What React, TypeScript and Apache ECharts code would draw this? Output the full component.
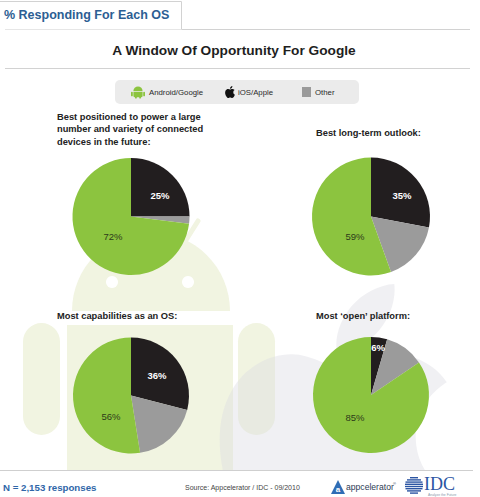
import React, { useEffect, useRef } from "react";
import * as echarts from "echarts";

// ---------- data ----------
const OS_NAMES = ["iOS/Apple", "Other", "Android/Google"];
const PIE_TITLES = [
  "Best positioned to power a large\nnumber and variety of connected\ndevices in the future:",
  "Best long-term outlook:",
  "Most capabilities as an OS:",
  "Most \u2018open\u2019 platform:",
];
// slice sizes as drawn in the picture (share of each pie)
const IOS_SHARE = [25, 28, 29, 4.5];
const OTHER_SHARE = [2, 16.5, 18.5, 11];
const ANDROID_SHARE = [73, 55.5, 52.5, 84.5];
// percentages printed on the slices
const IOS_LABELS = ["25%", "35%", "36%", "6%"];
const ANDROID_LABELS = ["72%", "59%", "56%", "85%"];
const LEGEND_LABELS = ["Android/Google", "iOS/Apple", "Other"];

// ---------- layout / style ----------
const FONT = "'Liberation Sans', Arial, Helvetica, sans-serif";
const GREEN = "#8cc43f";
const BLACK = "#221e1f";
const GRAY = "#9b9b9b";
const BLUE = "#2c5e93";
const ANDROID_BG = "#f1f4e1";
const PIE_CENTERS: [number, number][] = [
  [131, 216.5],
  [371, 216.5],
  [131, 395.5],
  [371, 395],
];
const PIE_RADII = [58.5, 59, 58, 58];
const IOS_LABEL_OFFSET: [number, number][] = [
  [29, -21],
  [31, -21],
  [26, -20],
  [7, -48],
];
const ANDROID_LABEL_OFFSET: [number, number][] = [
  [-18, 19.5],
  [-16, 19.5],
  [-20, 21],
  [-16, 22],
];
const TITLE_POS: [number, number][] = [
  [57, 111],
  [316, 127],
  [57, 310],
  [316, 310],
];

const APPLE_PATH =
  "M12.152 6.896c-.948 0-2.415-1.078-3.96-1.04-2.04.027-3.91 1.183-4.961 3.014-2.117 3.675-.546 9.103 1.519 12.09 1.013 1.454 2.208 3.09 3.792 3.039 1.52-.065 2.09-.987 3.935-.987 1.831 0 2.35.987 3.96.948 1.637-.026 2.676-1.48 3.676-2.948 1.156-1.688 1.636-3.325 1.662-3.415-.039-.013-3.182-1.221-3.22-4.857-.026-3.04 2.48-4.494 2.597-4.559-1.429-2.09-3.623-2.324-4.39-2.376-2-.156-3.675 1.09-4.61 1.09zM15.53 3.83c.843-1.012 1.4-2.427 1.245-3.830-1.207.052-2.662.805-3.532 1.818-.78.896-1.454 2.338-1.273 3.714 1.338.104 2.715-.688 3.559-1.701";

echarts.graphic.registerShape("apple", echarts.graphic.extendPath(APPLE_PATH, {}));

function text(x: number, y: number, t: string, style: any, z = 3) {
  return {
    type: "text",
    x,
    y,
    z,
    silent: true,
    style: {
      text: t,
      fontFamily: FONT,
      fill: "#222",
      textAlign: "left",
      textVerticalAlign: "middle",
      ...style,
    },
  };
}

function buildGraphic() {
  const els: any[] = [];
  // ---- background android robot ----
  const a = { fill: ANDROID_BG };
  els.push({ type: "sector", z: 0, silent: true, shape: { cx: 151, cy: 311, r: 79, startAngle: Math.PI, endAngle: Math.PI * 2, clockwise: true }, style: a });
  els.push({ type: "circle", z: 0, silent: true, shape: { cx: 112, cy: 282, r: 6 }, style: { fill: "#fff" } });
  els.push({ type: "circle", z: 0, silent: true, shape: { cx: 188, cy: 282, r: 6 }, style: { fill: "#fff" } });
  els.push({ type: "line", z: 0, silent: true, shape: { x1: 186, y1: 240, x2: 198, y2: 221 }, style: { stroke: ANDROID_BG, lineWidth: 5, lineCap: "round" } });
  els.push({ type: "line", z: 0, silent: true, shape: { x1: 116, y1: 240, x2: 104, y2: 221 }, style: { stroke: ANDROID_BG, lineWidth: 5, lineCap: "round" } });
  els.push({ type: "rect", z: 0, silent: true, shape: { x: 67, y: 325, width: 166, height: 165, r: [0, 0, 20, 20] }, style: a });
  els.push({ type: "rect", z: 0, silent: true, shape: { x: 23, y: 323, width: 37, height: 112, r: 18.5 }, style: a });
  els.push({ type: "rect", z: 0, silent: true, shape: { x: 238, y: 323, width: 37, height: 112, r: 18.5 }, style: a });
  // ---- background apple ----
  els.push({ type: "apple", z: 1, silent: true, x: 193, y: 284, scaleX: 12, scaleY: 12, style: { fill: "#dcdce2", opacity: 0.42 } });

  // ---- footer white band ----
  els.push({ type: "rect", z: 1.5, silent: true, shape: { x: 0, y: 471, width: 480, height: 30 }, style: { fill: "#fff" } });
  els.push({ type: "line", z: 1.5, silent: true, shape: { x1: 0, y1: 470.5, x2: 473, y2: 470.5 }, style: { stroke: "#cfcfcf", lineWidth: 1 } });

  // ---- header ----
  els.push({ type: "polyline", z: 3, silent: true, shape: { points: [[0, 1.5], [181.5, 1.5], [181.5, 29.5], [470, 29.5]] }, style: { stroke: "#d2d2d2", lineWidth: 1, fill: null } });
  els.push({ type: "line", z: 3, silent: true, shape: { x1: 5, y1: 29.5, x2: 181, y2: 29.5 }, style: { stroke: "#e6e6e6", lineWidth: 1 } });
  els.push(text(4, 15, "% Responding For Each OS", { fontSize: 12.5, fontWeight: "bold", fill: BLUE }));
  els.push(text(234, 50, "A Window Of Opportunity For Google", { fontSize: 13.7, fontWeight: "bold", fill: "#1e1e1e", textAlign: "center" }));
  els.push({ type: "line", z: 3, silent: true, shape: { x1: 5, y1: 68.5, x2: 470, y2: 68.5 }, style: { stroke: "#d2d2d2", lineWidth: 1 } });

  // ---- legend ----
  els.push({ type: "rect", z: 3, silent: true, shape: { x: 115, y: 80, width: 244, height: 24, r: 5 }, style: { fill: "#ebebeb" } });
  // android icon
  const g = { fill: GREEN };
  els.push({ type: "sector", z: 4, silent: true, shape: { cx: 138, cy: 91, r: 4.6, startAngle: Math.PI, endAngle: Math.PI * 2, clockwise: true }, style: g });
  els.push({ type: "rect", z: 4, silent: true, shape: { x: 133.4, y: 91.7, width: 9.2, height: 5.5, r: [0, 0, 1.5, 1.5] }, style: g });
  els.push({ type: "rect", z: 4, silent: true, shape: { x: 131, y: 91.7, width: 1.8, height: 4.6, r: 0.9 }, style: g });
  els.push({ type: "rect", z: 4, silent: true, shape: { x: 143.2, y: 91.7, width: 1.8, height: 4.6, r: 0.9 }, style: g });
  els.push({ type: "rect", z: 4, silent: true, shape: { x: 135, y: 96, width: 1.8, height: 2.6, r: 0.9 }, style: g });
  els.push({ type: "rect", z: 4, silent: true, shape: { x: 139.2, y: 96, width: 1.8, height: 2.6, r: 0.9 }, style: g });
  els.push(text(149, 92.5, LEGEND_LABELS[0], { fontSize: 7.8, fill: "#2a2a2a" }, 4));
  // apple icon
  els.push({ type: "apple", z: 4, silent: true, x: 224, y: 86, scaleX: 0.5, scaleY: 0.5, style: { fill: "#111" } });
  els.push(text(238, 92.5, LEGEND_LABELS[1], { fontSize: 7.8, fill: "#2a2a2a" }, 4));
  // other icon
  els.push({ type: "rect", z: 4, silent: true, shape: { x: 302, y: 87, width: 9, height: 10 }, style: { fill: "#9a9a9a" } });
  els.push(text(315, 92.5, LEGEND_LABELS[2], { fontSize: 7.8, fill: "#2a2a2a" }, 4));

  // ---- pie titles ----
  PIE_TITLES.forEach((t, i) => {
    els.push(text(TITLE_POS[i][0], TITLE_POS[i][1], t, { fontSize: 9.3, fontWeight: "bold", fill: "#222", textVerticalAlign: "top", lineHeight: 12.2 }));
  });

  // ---- footer ----
  els.push(text(3, 487, "N = 2,153 responses", { fontSize: 9.7, fontWeight: "bold", fill: "#2f66a8" }));
  els.push(text(185, 487, "Source: Appcelerator / IDC - 09/2010", { fontSize: 7, fill: "#444" }));
  // appcelerator logo
  els.push({ type: "polygon", z: 3, silent: true, shape: { points: [[331, 494], [338, 480], [345, 494]] }, style: { fill: "#2f6db5" } });
  els.push(text(338, 489.5, "a", { fontSize: 8, fontWeight: "bold", fill: "#fff", textAlign: "center" }, 4));
  els.push(text(346, 487, "appcelerator", { fontSize: 8.6, fill: "#2c3b55" }));
  els.push(text(393, 483.5, "\u00ae", { fontSize: 4, fill: "#2c3b55" }));
  // IDC logo
  const stripeW = [8, 14, 17, 18, 18, 17, 14, 8];
  stripeW.forEach((w, k) => {
    els.push({ type: "rect", z: 3, silent: true, shape: { x: 414 - w / 2, y: 477 + k * 2.2, width: w, height: 1.4 }, style: { fill: "#2b55a3" } });
  });
  els.push(text(424, 484, "IDC", { fontSize: 18, fontFamily: "'Liberation Serif', 'Times New Roman', serif", fill: "#2b55a3" }));
  els.push(text(428, 495.3, "Analyze the Future", { fontSize: 3.4, fill: "#8899aa" }));
  return els;
}

function buildSeries() {
  return PIE_CENTERS.map((c, i) => {
    const values = [IOS_SHARE[i], OTHER_SHARE[i], ANDROID_SHARE[i]];
    const colors = [BLACK, GRAY, GREEN];
    const labels = [IOS_LABELS[i], "", ANDROID_LABELS[i]];
    const labelColors = ["#ffffff", "#ffffff", "#2d3b1a"];
    return {
      type: "pie",
      center: c,
      radius: PIE_RADII[i],
      startAngle: 90,
      clockwise: true,
      silent: true,
      labelLine: { show: false },
      data: OS_NAMES.map((name, k) => ({
        name,
        value: values[k],
        itemStyle: { color: colors[k] },
        label: {
          show: labels[k] !== "",
          position: "inside",
          formatter: labels[k],
          color: labelColors[k],
          fontSize: 9.5,
          fontFamily: FONT,
          fontWeight: k === 0 ? "bold" : "normal",
        },
      })),
      labelLayout: (p: any) => {
        const off = p.dataIndex === 0 ? IOS_LABEL_OFFSET[i] : ANDROID_LABEL_OFFSET[i];
        return { x: c[0] + off[0], y: c[1] + off[1], align: "center", verticalAlign: "middle" };
      },
    };
  });
}

export default function App() {
  const ref = useRef<HTMLDivElement>(null);
  useEffect(() => {
    if (!ref.current) return;
    const chart = echarts.init(ref.current, null, { renderer: "svg" });
    chart.setOption({
      animation: false,
      backgroundColor: "#ffffff",
      graphic: { elements: buildGraphic() },
      series: buildSeries(),
    });
    return () => chart.dispose();
  }, []);
  return (
    <div
      ref={ref}
      style={{ position: "absolute", left: 0, top: 0, width: 480, height: 497 }}
    />
  );
}
